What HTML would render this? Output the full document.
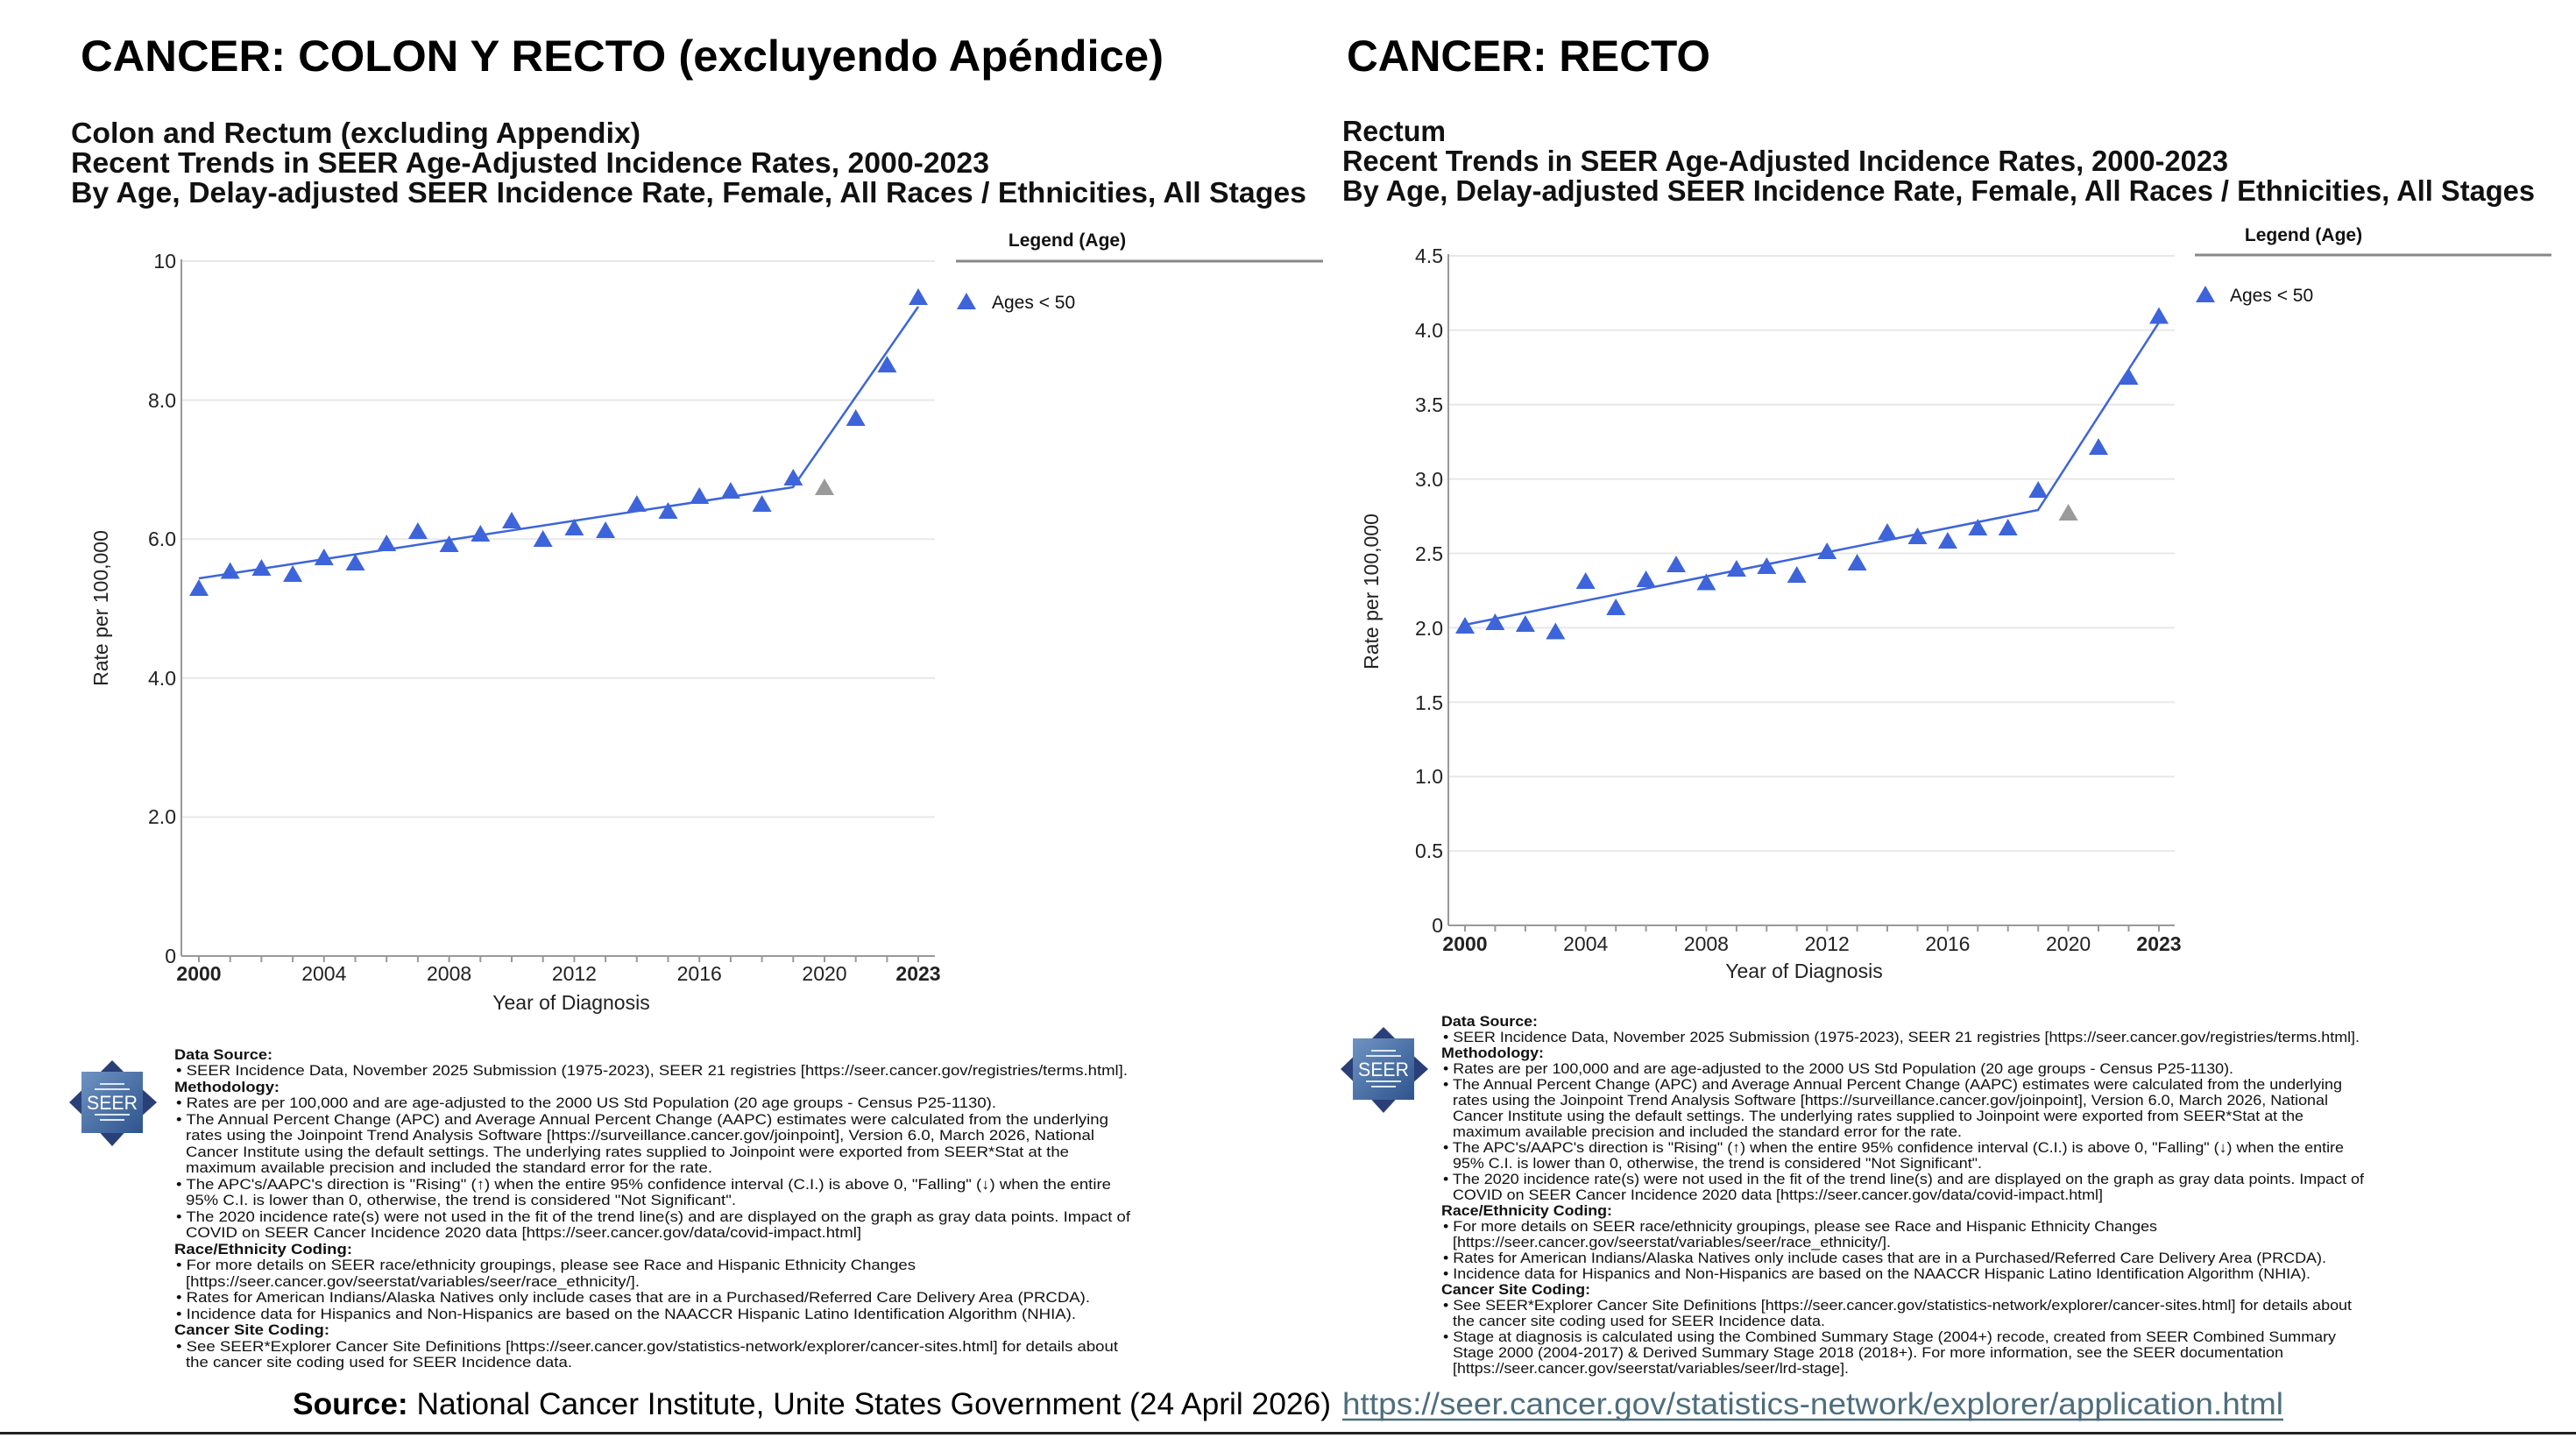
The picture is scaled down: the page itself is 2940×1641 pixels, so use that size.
<!DOCTYPE html>
<html><head><meta charset="utf-8"><style>
html,body{margin:0;padding:0;background:#fff;}
svg{display:block;}
text{font-family:"Liberation Sans",Arial,sans-serif;}
.h{font-weight:bold;font-size:50px;fill:#000;}
.st{font-weight:bold;font-size:33px;fill:#111;}
.tk{font-size:23px;fill:#222;}
.ax{font-size:23px;fill:#222;}
.fn{font-size:17px;fill:#111;}
.fb{font-size:17px;font-weight:bold;fill:#111;}
.lg{font-size:21px;fill:#111;}
.lgh{font-size:21px;font-weight:bold;fill:#111;}
</style></head><body>
<svg width="2940" height="1641" viewBox="0 0 2940 1641" xmlns="http://www.w3.org/2000/svg">
<defs>
<polygon id="tb" points="0,-11 11,8 -11,8" fill="#3d64db"/>
<polygon id="tg" points="0,-11 11,8 -11,8" fill="#9a9a9a"/>
<linearGradient id="sg" x1="0" y1="0" x2="1" y2="1"><stop offset="0" stop-color="#6f93c2"/><stop offset="1" stop-color="#2e548e"/></linearGradient>
<g id="logo">
<polygon points="0,-48 20,-28 51,0 20,28 0,50 -20,28 -49,0 -20,-28" fill="#2a3f78"/>
<rect x="-35" y="-35" width="70" height="70" fill="url(#sg)"/>
<rect x="-14" y="-22" width="28" height="2" fill="#dfe8f4"/><rect x="-20" y="-16" width="40" height="2" fill="#dfe8f4"/>
<rect x="-20" y="13" width="40" height="2" fill="#dfe8f4"/><rect x="-14" y="19" width="28" height="2" fill="#dfe8f4"/>
<text x="0" y="8" text-anchor="middle" font-size="22" fill="#fff" font-family="Liberation Serif,serif" textLength="58" lengthAdjust="spacingAndGlyphs">SEER</text>
</g>
</defs>

<!-- Headers -->
<text class="h" x="92" y="81" textLength="1236" lengthAdjust="spacingAndGlyphs">CANCER: COLON Y RECTO (excluyendo Apéndice)</text>
<text class="h" x="1537" y="81" textLength="415" lengthAdjust="spacingAndGlyphs">CANCER: RECTO</text>

<text class="st" x="81" y="163" textLength="650" lengthAdjust="spacingAndGlyphs">Colon and Rectum (excluding Appendix)</text>
<text class="st" x="81" y="197" textLength="1048" lengthAdjust="spacingAndGlyphs">Recent Trends in SEER Age-Adjusted Incidence Rates, 2000-2023</text>
<text class="st" x="81" y="231" textLength="1410" lengthAdjust="spacingAndGlyphs">By Age, Delay-adjusted SEER Incidence Rate, Female, All Races / Ethnicities, All Stages</text>

<text class="st" x="1532" y="161" textLength="118" lengthAdjust="spacingAndGlyphs">Rectum</text>
<text class="st" x="1532" y="195" textLength="1011" lengthAdjust="spacingAndGlyphs">Recent Trends in SEER Age-Adjusted Incidence Rates, 2000-2023</text>
<text class="st" x="1532" y="229" textLength="1361" lengthAdjust="spacingAndGlyphs">By Age, Delay-adjusted SEER Incidence Rate, Female, All Races / Ethnicities, All Stages</text>

<!-- LEFT CHART -->
<g stroke="#e8e8e8" stroke-width="2">
<line x1="207" y1="298" x2="1067" y2="298"/><line x1="207" y1="456.6" x2="1067" y2="456.6"/>
<line x1="207" y1="615.2" x2="1067" y2="615.2"/><line x1="207" y1="773.8" x2="1067" y2="773.8"/>
<line x1="207" y1="932.4" x2="1067" y2="932.4"/>
</g>
<line x1="207" y1="296" x2="207" y2="1091" stroke="#999" stroke-width="2"/>
<line x1="207" y1="1091" x2="1067" y2="1091" stroke="#999" stroke-width="2"/>
<g stroke="#999" stroke-width="2">
<line x1="227" y1="1091" x2="227" y2="1098"/><line x1="262.7" y1="1091" x2="262.7" y2="1098"/><line x1="298.4" y1="1091" x2="298.4" y2="1098"/><line x1="334.1" y1="1091" x2="334.1" y2="1098"/><line x1="369.8" y1="1091" x2="369.8" y2="1098"/><line x1="405.5" y1="1091" x2="405.5" y2="1098"/><line x1="441.2" y1="1091" x2="441.2" y2="1098"/><line x1="476.9" y1="1091" x2="476.9" y2="1098"/><line x1="512.6" y1="1091" x2="512.6" y2="1098"/><line x1="548.3" y1="1091" x2="548.3" y2="1098"/><line x1="584" y1="1091" x2="584" y2="1098"/><line x1="619.7" y1="1091" x2="619.7" y2="1098"/><line x1="655.4" y1="1091" x2="655.4" y2="1098"/><line x1="691.1" y1="1091" x2="691.1" y2="1098"/><line x1="726.8" y1="1091" x2="726.8" y2="1098"/><line x1="762.5" y1="1091" x2="762.5" y2="1098"/><line x1="798.2" y1="1091" x2="798.2" y2="1098"/><line x1="833.9" y1="1091" x2="833.9" y2="1098"/><line x1="869.6" y1="1091" x2="869.6" y2="1098"/><line x1="905.3" y1="1091" x2="905.3" y2="1098"/><line x1="941" y1="1091" x2="941" y2="1098"/><line x1="976.7" y1="1091" x2="976.7" y2="1098"/><line x1="1012.4" y1="1091" x2="1012.4" y2="1098"/><line x1="1048" y1="1091" x2="1048" y2="1098"/>
</g>
<g class="tk" text-anchor="end">
<text x="201" y="306">10</text><text x="201" y="465">8.0</text><text x="201" y="623">6.0</text>
<text x="201" y="782">4.0</text><text x="201" y="940">2.0</text><text x="201" y="1099">0</text>
</g>
<g class="tk" text-anchor="middle">
<text x="227" y="1119" font-weight="bold">2000</text><text x="369.8" y="1119">2004</text><text x="512.6" y="1119">2008</text>
<text x="655.4" y="1119">2012</text><text x="798.2" y="1119">2016</text><text x="941" y="1119">2020</text>
<text x="1048" y="1119" font-weight="bold">2023</text>
</g>
<text class="ax" x="652" y="1152" text-anchor="middle">Year of Diagnosis</text>
<text class="ax" transform="translate(123,694) rotate(-90)" text-anchor="middle">Rate per 100,000</text>
<polyline points="227,660 905,556 1048,350" fill="none" stroke="#3d64db" stroke-width="2.5"/>
<g>
<use href="#tb" x="227" y="672"/><use href="#tb" x="262.7" y="652.5"/><use href="#tb" x="298.4" y="649"/><use href="#tb" x="334.1" y="656"/><use href="#tb" x="369.8" y="637"/><use href="#tb" x="405.5" y="643"/><use href="#tb" x="441.2" y="621"/><use href="#tb" x="476.9" y="607"/><use href="#tb" x="512.6" y="622"/><use href="#tb" x="548.3" y="610"/><use href="#tb" x="584" y="595"/><use href="#tb" x="619.7" y="616"/><use href="#tb" x="655.4" y="603"/><use href="#tb" x="691.1" y="606"/><use href="#tb" x="726.8" y="576"/><use href="#tb" x="762.5" y="584"/><use href="#tb" x="798.2" y="567"/><use href="#tb" x="833.9" y="561"/><use href="#tb" x="869.6" y="576"/><use href="#tb" x="905.3" y="546"/><use href="#tg" x="941" y="557"/><use href="#tb" x="976.7" y="478"/><use href="#tb" x="1012.4" y="417"/><use href="#tb" x="1048" y="340"/>
</g>
<text class="lgh" x="1218" y="281" text-anchor="middle">Legend (Age)</text>
<line x1="1091" y1="298" x2="1510" y2="298" stroke="#888" stroke-width="3"/>
<use href="#tb" x="1103" y="345"/>
<text class="lg" x="1132" y="352">Ages &lt; 50</text>

<!-- RIGHT CHART -->
<g stroke="#e8e8e8" stroke-width="2">
<line x1="1653" y1="292" x2="2482" y2="292"/><line x1="1653" y1="376.8" x2="2482" y2="376.8"/><line x1="1653" y1="461.7" x2="2482" y2="461.7"/><line x1="1653" y1="546.6" x2="2482" y2="546.6"/><line x1="1653" y1="631.5" x2="2482" y2="631.5"/><line x1="1653" y1="716.4" x2="2482" y2="716.4"/><line x1="1653" y1="801.3" x2="2482" y2="801.3"/><line x1="1653" y1="886.2" x2="2482" y2="886.2"/><line x1="1653" y1="971.1" x2="2482" y2="971.1"/>
</g>
<line x1="1653" y1="290" x2="1653" y2="1056" stroke="#999" stroke-width="2"/>
<line x1="1653" y1="1056" x2="2482" y2="1056" stroke="#999" stroke-width="2"/>
<g stroke="#999" stroke-width="2">
<line x1="1672" y1="1056" x2="1672" y2="1063"/><line x1="1706.4" y1="1056" x2="1706.4" y2="1063"/><line x1="1740.9" y1="1056" x2="1740.9" y2="1063"/><line x1="1775.3" y1="1056" x2="1775.3" y2="1063"/><line x1="1809.7" y1="1056" x2="1809.7" y2="1063"/><line x1="1844.2" y1="1056" x2="1844.2" y2="1063"/><line x1="1878.6" y1="1056" x2="1878.6" y2="1063"/><line x1="1913" y1="1056" x2="1913" y2="1063"/><line x1="1947.4" y1="1056" x2="1947.4" y2="1063"/><line x1="1981.9" y1="1056" x2="1981.9" y2="1063"/><line x1="2016.3" y1="1056" x2="2016.3" y2="1063"/><line x1="2050.7" y1="1056" x2="2050.7" y2="1063"/><line x1="2085.2" y1="1056" x2="2085.2" y2="1063"/><line x1="2119.6" y1="1056" x2="2119.6" y2="1063"/><line x1="2154" y1="1056" x2="2154" y2="1063"/><line x1="2188.5" y1="1056" x2="2188.5" y2="1063"/><line x1="2222.9" y1="1056" x2="2222.9" y2="1063"/><line x1="2257.3" y1="1056" x2="2257.3" y2="1063"/><line x1="2291.7" y1="1056" x2="2291.7" y2="1063"/><line x1="2326.2" y1="1056" x2="2326.2" y2="1063"/><line x1="2360.6" y1="1056" x2="2360.6" y2="1063"/><line x1="2395" y1="1056" x2="2395" y2="1063"/><line x1="2429.5" y1="1056" x2="2429.5" y2="1063"/><line x1="2464" y1="1056" x2="2464" y2="1063"/>
</g>
<g class="tk" text-anchor="end">
<text x="1647" y="300">4.5</text><text x="1647" y="385">4.0</text><text x="1647" y="470">3.5</text><text x="1647" y="555">3.0</text><text x="1647" y="640">2.5</text><text x="1647" y="725">2.0</text><text x="1647" y="810">1.5</text><text x="1647" y="894">1.0</text><text x="1647" y="979">0.5</text><text x="1647" y="1064">0</text>
</g>
<g class="tk" text-anchor="middle">
<text x="1672" y="1085" font-weight="bold">2000</text><text x="1809.7" y="1085">2004</text><text x="1947.4" y="1085">2008</text><text x="2085.2" y="1085">2012</text><text x="2222.9" y="1085">2016</text><text x="2360.6" y="1085">2020</text><text x="2464" y="1085" font-weight="bold">2023</text>
</g>
<text class="ax" x="2059" y="1116" text-anchor="middle">Year of Diagnosis</text>
<text class="ax" transform="translate(1573,675) rotate(-90)" text-anchor="middle">Rate per 100,000</text>
<polyline points="1672,713 2326,582 2464,368" fill="none" stroke="#3d64db" stroke-width="2.5"/>
<g>
<use href="#tb" x="1672" y="715"/><use href="#tb" x="1706.4" y="711"/><use href="#tb" x="1740.9" y="713"/><use href="#tb" x="1775.3" y="721.5"/><use href="#tb" x="1809.7" y="664"/><use href="#tb" x="1844.2" y="694"/><use href="#tb" x="1878.6" y="662"/><use href="#tb" x="1913" y="645"/><use href="#tb" x="1947.4" y="665.5"/><use href="#tb" x="1981.9" y="650"/><use href="#tb" x="2016.3" y="647"/><use href="#tb" x="2050.7" y="657"/><use href="#tb" x="2085.2" y="630"/><use href="#tb" x="2119.6" y="643"/><use href="#tb" x="2154" y="608"/><use href="#tb" x="2188.5" y="613"/><use href="#tb" x="2222.9" y="618"/><use href="#tb" x="2257.3" y="603"/><use href="#tb" x="2291.7" y="603"/><use href="#tb" x="2326.2" y="560"/><use href="#tg" x="2360.6" y="586"/><use href="#tb" x="2395" y="511"/><use href="#tb" x="2429.5" y="431"/><use href="#tb" x="2464" y="361.5"/>
</g>
<text class="lgh" x="2629" y="275" text-anchor="middle">Legend (Age)</text>
<line x1="2505" y1="291" x2="2912" y2="291" stroke="#888" stroke-width="3"/>
<use href="#tb" x="2517" y="337"/>
<text class="lg" x="2545" y="344">Ages &lt; 50</text>

<!-- Logos -->
<use href="#logo" x="128" y="1258"/>
<use href="#logo" x="1579" y="1220"/>

<!-- Left footnotes -->
<g>
<text class="fb" x="199" y="1209" textLength="112" lengthAdjust="spacingAndGlyphs">Data Source:</text>
<text class="fn" x="201" y="1227" textLength="1086" lengthAdjust="spacingAndGlyphs">• SEER Incidence Data, November 2025 Submission (1975-2023), SEER 21 registries [https://seer.cancer.gov/registries/terms.html].</text>
<text class="fb" x="199" y="1246" textLength="120" lengthAdjust="spacingAndGlyphs">Methodology:</text>
<text class="fn" x="201" y="1264" textLength="936" lengthAdjust="spacingAndGlyphs">• Rates are per 100,000 and are age-adjusted to the 2000 US Std Population (20 age groups - Census P25-1130).</text>
<text class="fn" x="201" y="1283" textLength="1064" lengthAdjust="spacingAndGlyphs">• The Annual Percent Change (APC) and Average Annual Percent Change (AAPC) estimates were calculated from the underlying</text>
<text class="fn" x="212" y="1301" textLength="1037" lengthAdjust="spacingAndGlyphs">rates using the Joinpoint Trend Analysis Software [https://surveillance.cancer.gov/joinpoint], Version 6.0, March 2026, National</text>
<text class="fn" x="212" y="1320" textLength="1008" lengthAdjust="spacingAndGlyphs">Cancer Institute using the default settings. The underlying rates supplied to Joinpoint were exported from SEER*Stat at the</text>
<text class="fn" x="212" y="1338" textLength="601" lengthAdjust="spacingAndGlyphs">maximum available precision and included the standard error for the rate.</text>
<text class="fn" x="201" y="1357" textLength="1067" lengthAdjust="spacingAndGlyphs">• The APC's/AAPC's direction is "Rising" (↑) when the entire 95% confidence interval (C.I.) is above 0, "Falling" (↓) when the entire</text>
<text class="fn" x="212" y="1375" textLength="628" lengthAdjust="spacingAndGlyphs">95% C.I. is lower than 0, otherwise, the trend is considered "Not Significant".</text>
<text class="fn" x="201" y="1394" textLength="1089" lengthAdjust="spacingAndGlyphs">• The 2020 incidence rate(s) were not used in the fit of the trend line(s) and are displayed on the graph as gray data points. Impact of</text>
<text class="fn" x="212" y="1412" textLength="771" lengthAdjust="spacingAndGlyphs">COVID on SEER Cancer Incidence 2020 data [https://seer.cancer.gov/data/covid-impact.html]</text>
<text class="fb" x="199" y="1431" textLength="203" lengthAdjust="spacingAndGlyphs">Race/Ethnicity Coding:</text>
<text class="fn" x="201" y="1449" textLength="844" lengthAdjust="spacingAndGlyphs">• For more details on SEER race/ethnicity groupings, please see Race and Hispanic Ethnicity Changes</text>
<text class="fn" x="212" y="1468" textLength="518" lengthAdjust="spacingAndGlyphs">[https://seer.cancer.gov/seerstat/variables/seer/race_ethnicity/].</text>
<text class="fn" x="201" y="1486" textLength="1043" lengthAdjust="spacingAndGlyphs">• Rates for American Indians/Alaska Natives only include cases that are in a Purchased/Referred Care Delivery Area (PRCDA).</text>
<text class="fn" x="201" y="1505" textLength="1027" lengthAdjust="spacingAndGlyphs">• Incidence data for Hispanics and Non-Hispanics are based on the NAACCR Hispanic Latino Identification Algorithm (NHIA).</text>
<text class="fb" x="199" y="1523" textLength="177" lengthAdjust="spacingAndGlyphs">Cancer Site Coding:</text>
<text class="fn" x="201" y="1542" textLength="1075" lengthAdjust="spacingAndGlyphs">• See SEER*Explorer Cancer Site Definitions [https://seer.cancer.gov/statistics-network/explorer/cancer-sites.html] for details about</text>
<text class="fn" x="212" y="1560" textLength="441" lengthAdjust="spacingAndGlyphs">the cancer site coding used for SEER Incidence data.</text>
</g>

<!-- Right footnotes -->
<g>
<text class="fb" x="1645" y="1171" textLength="110" lengthAdjust="spacingAndGlyphs">Data Source:</text>
<text class="fn" x="1647" y="1189" textLength="1046" lengthAdjust="spacingAndGlyphs">• SEER Incidence Data, November 2025 Submission (1975-2023), SEER 21 registries [https://seer.cancer.gov/registries/terms.html].</text>
<text class="fb" x="1645" y="1207" textLength="117" lengthAdjust="spacingAndGlyphs">Methodology:</text>
<text class="fn" x="1647" y="1225" textLength="902" lengthAdjust="spacingAndGlyphs">• Rates are per 100,000 and are age-adjusted to the 2000 US Std Population (20 age groups - Census P25-1130).</text>
<text class="fn" x="1647" y="1243" textLength="1026" lengthAdjust="spacingAndGlyphs">• The Annual Percent Change (APC) and Average Annual Percent Change (AAPC) estimates were calculated from the underlying</text>
<text class="fn" x="1658" y="1261" textLength="999" lengthAdjust="spacingAndGlyphs">rates using the Joinpoint Trend Analysis Software [https://surveillance.cancer.gov/joinpoint], Version 6.0, March 2026, National</text>
<text class="fn" x="1658" y="1279" textLength="971" lengthAdjust="spacingAndGlyphs">Cancer Institute using the default settings. The underlying rates supplied to Joinpoint were exported from SEER*Stat at the</text>
<text class="fn" x="1658" y="1297" textLength="581" lengthAdjust="spacingAndGlyphs">maximum available precision and included the standard error for the rate.</text>
<text class="fn" x="1647" y="1315" textLength="1028" lengthAdjust="spacingAndGlyphs">• The APC's/AAPC's direction is "Rising" (↑) when the entire 95% confidence interval (C.I.) is above 0, "Falling" (↓) when the entire</text>
<text class="fn" x="1658" y="1333" textLength="604" lengthAdjust="spacingAndGlyphs">95% C.I. is lower than 0, otherwise, the trend is considered "Not Significant".</text>
<text class="fn" x="1647" y="1351" textLength="1051" lengthAdjust="spacingAndGlyphs">• The 2020 incidence rate(s) were not used in the fit of the trend line(s) and are displayed on the graph as gray data points. Impact of</text>
<text class="fn" x="1658" y="1369" textLength="742" lengthAdjust="spacingAndGlyphs">COVID on SEER Cancer Incidence 2020 data [https://seer.cancer.gov/data/covid-impact.html]</text>
<text class="fb" x="1645" y="1387" textLength="195" lengthAdjust="spacingAndGlyphs">Race/Ethnicity Coding:</text>
<text class="fn" x="1647" y="1405" textLength="815" lengthAdjust="spacingAndGlyphs">• For more details on SEER race/ethnicity groupings, please see Race and Hispanic Ethnicity Changes</text>
<text class="fn" x="1658" y="1423" textLength="500" lengthAdjust="spacingAndGlyphs">[https://seer.cancer.gov/seerstat/variables/seer/race_ethnicity/].</text>
<text class="fn" x="1647" y="1441" textLength="1008" lengthAdjust="spacingAndGlyphs">• Rates for American Indians/Alaska Natives only include cases that are in a Purchased/Referred Care Delivery Area (PRCDA).</text>
<text class="fn" x="1647" y="1459" textLength="990" lengthAdjust="spacingAndGlyphs">• Incidence data for Hispanics and Non-Hispanics are based on the NAACCR Hispanic Latino Identification Algorithm (NHIA).</text>
<text class="fb" x="1645" y="1477" textLength="170" lengthAdjust="spacingAndGlyphs">Cancer Site Coding:</text>
<text class="fn" x="1647" y="1495" textLength="1037" lengthAdjust="spacingAndGlyphs">• See SEER*Explorer Cancer Site Definitions [https://seer.cancer.gov/statistics-network/explorer/cancer-sites.html] for details about</text>
<text class="fn" x="1658" y="1513" textLength="425" lengthAdjust="spacingAndGlyphs">the cancer site coding used for SEER Incidence data.</text>
<text class="fn" x="1647" y="1531" textLength="1019" lengthAdjust="spacingAndGlyphs">• Stage at diagnosis is calculated using the Combined Summary Stage (2004+) recode, created from SEER Combined Summary</text>
<text class="fn" x="1658" y="1549" textLength="948" lengthAdjust="spacingAndGlyphs">Stage 2000 (2004-2017) &amp; Derived Summary Stage 2018 (2018+).  For more information, see the SEER documentation</text>
<text class="fn" x="1658" y="1567" textLength="452" lengthAdjust="spacingAndGlyphs">[https://seer.cancer.gov/seerstat/variables/seer/lrd-stage].</text>
</g>

<!-- Source line -->
<text x="334" y="1614" font-size="35" fill="#000" textLength="1185" lengthAdjust="spacingAndGlyphs"><tspan font-weight="bold">Source:</tspan> National Cancer Institute, Unite States Government (24 April 2026)</text>
<text x="1532" y="1614" font-size="35" fill="#4d6e7e" textLength="1074" lengthAdjust="spacingAndGlyphs">https://seer.cancer.gov/statistics-network/explorer/application.html</text>
<line x1="1532" y1="1620" x2="2606" y2="1620" stroke="#4d6e7e" stroke-width="2.5"/>
<rect x="0" y="1634" width="2940" height="3" fill="#222"/>
</svg>
</body></html>
